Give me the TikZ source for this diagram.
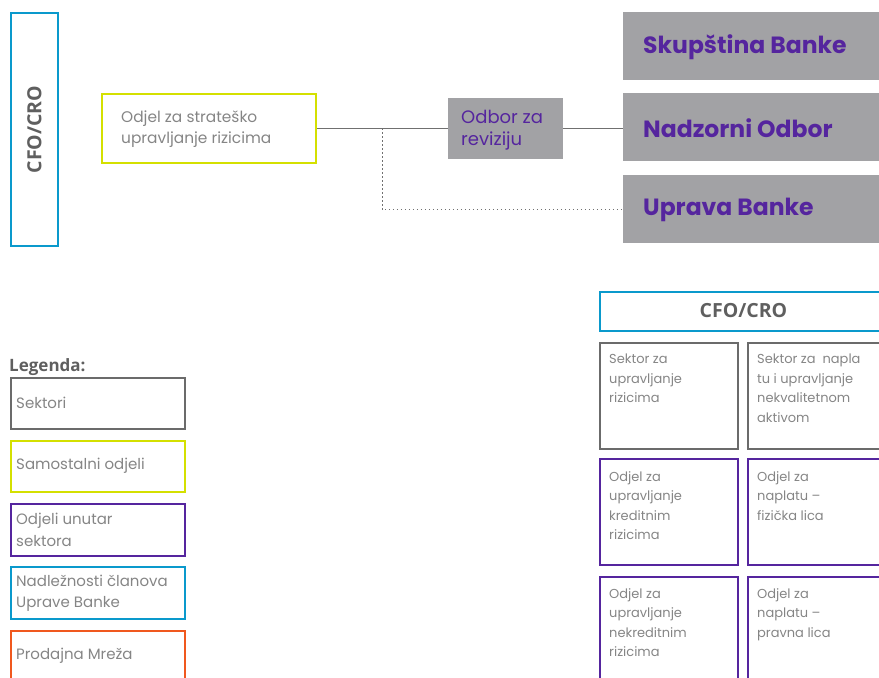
\documentclass[tikz,border=0pt]{standalone}
\usepackage{fontspec}
\setmainfont{Poppins}
\newfontfamily\headfont{Open Sans}
\definecolor{cblue}{HTML}{0A99CC}
\definecolor{cyel}{HTML}{D4E000}
\definecolor{cpurp}{HTML}{55259E}
\definecolor{cgfill}{HTML}{A2A2A5}
\definecolor{cgstroke}{HTML}{6B6B6B}
\definecolor{ctext}{HTML}{858585}
\definecolor{corange}{HTML}{F0581E}
\definecolor{cline}{HTML}{707070}
\definecolor{chead}{HTML}{5F5F5F}
\tikzset{
  frame/.style={draw=#1, line width=2pt, inner sep=0pt, anchor=north west},
  gbox/.style={fill=cgfill, draw=none, inner sep=0pt, anchor=north west},
  body/.style={text=ctext, font=\fontsize{13}{19.5}\selectfont, align=left, inner sep=0pt, anchor=north west},
  legtxt/.style={text=ctext, font=\fontsize{15}{21.5}\selectfont, align=left, inner sep=0pt, anchor=west},
  big/.style={text=cpurp, font=\fontsize{23.5}{26}\selectfont\bfseries, inner sep=0pt, anchor=base west},
  hd/.style={text=chead, font=\headfont\fontsize{19.5}{22}\selectfont\bfseries, inner sep=0pt},
  conn/.style={draw=cline, line width=0.9pt},
  dotconn/.style={draw=cline, line width=0.9pt, dash pattern=on 1.5pt off 2.5pt}
}
\begin{document}
\begin{tikzpicture}[x=1pt,y=-1pt]
\useasboundingbox (0,0) rectangle (879,678);
\clip (0,0) rectangle (879,678);

% top left
\node[frame=cblue, minimum width=47, minimum height=233] (cfov) at (10,12) {};
\node[hd, rotate=90] (cfovt) at (cfov.center) {CFO/CRO};

\node[frame=cyel, minimum width=214, minimum height=69] (yel) at (101,93) {};
\node[body, font=\fontsize{15.4}{21}\selectfont] (yelt) at (121,110.5) {Odjel za strateško\\upravljanje rizicima};

\node[gbox, minimum width=115, minimum height=61] (odbor) at (448,98) {};
\node[body, text=cpurp, font=\fontsize{18}{22}\selectfont] (odbort) at (461,109.5) {Odbor za\\reviziju};

\node[gbox, minimum width=260, minimum height=68] (skup) at (623,12) {};
\node[big] (skupt) at (643,53) {Skupština Banke};
\node[gbox, minimum width=260, minimum height=68] (nad) at (623,93) {};
\node[big] (nadt) at (643,137) {Nadzorni Odbor};
\node[gbox, minimum width=260, minimum height=68] (upr) at (623,175) {};
\node[big] (uprt) at (643,215) {Uprava Banke};

\draw[conn] (yel.east) -- (yel.east -| odbor.west);
\draw[conn] (odbor.east) -- (odbor.east -| nad.west);
\coordinate (jn) at (382,128);
\draw[dotconn] (jn) |- (upr.west);

% legend
\node[hd, font=\headfont\fontsize{17}{20}\selectfont\bfseries, anchor=base west] (leg) at (9,371) {Legenda:};
\node[frame=cgstroke, minimum width=174, minimum height=51] (l1) at (10,377) {};
\node[legtxt] (l1t) at (16,403) {Sektori};
\node[frame=cyel, minimum width=174, minimum height=51] (l2) at (10,440) {};
\node[legtxt] (l2t) at (16,466) {Samostalni odjeli};
\node[frame=cpurp, minimum width=174, minimum height=52] (l3) at (10,503) {};
\node[legtxt] (l3t) at (16,530) {Odjeli unutar\\sektora};
\node[frame=cblue, minimum width=174, minimum height=52] (l4) at (10,566) {};
\node[legtxt] (l4t) at (16,593) {Nadležnosti članova\\Uprave Banke};
\node[frame=corange, minimum width=174, minimum height=60] (l5) at (10,630) {};
\node[legtxt] (l5t) at (16,656) {Prodajna Mreža};

% right bottom
\node[frame=cblue, minimum width=300, minimum height=39] (cfoh) at (599,291) {};
\node[hd] (cfoht) at (743.5,311) {CFO/CRO};

\node[frame=cgstroke, minimum width=138, minimum height=106] (s1) at (599,342) {};
\node[body] (s1t) at (609,354) {Sektor za\\upravljanje\\rizicima};
\node[frame=cgstroke, minimum width=150, minimum height=106] (s2) at (747,342) {};
\node[body] (s2t) at (757,354) {Sektor za~ napla\\tu i upravljanje\\nekvalitetnom\\aktivom};

\node[frame=cpurp, minimum width=138, minimum height=106] (o1) at (599,458) {};
\node[body] (o1t) at (609,471) {Odjel za\\upravljanje\\kreditnim\\rizicima};
\node[frame=cpurp, minimum width=150, minimum height=106] (o2) at (747,458) {};
\node[body] (o2t) at (757,471) {Odjel za\\naplatu –\\fizička lica};

\node[frame=cpurp, minimum width=138, minimum height=120] (o3) at (599,576) {};
\node[body] (o3t) at (609,588) {Odjel za\\upravljanje\\nekreditnim\\rizicima};
\node[frame=cpurp, minimum width=150, minimum height=120] (o4) at (747,576) {};
\node[body] (o4t) at (757,588) {Odjel za\\naplatu –\\pravna lica};
\end{tikzpicture}
\end{document}
